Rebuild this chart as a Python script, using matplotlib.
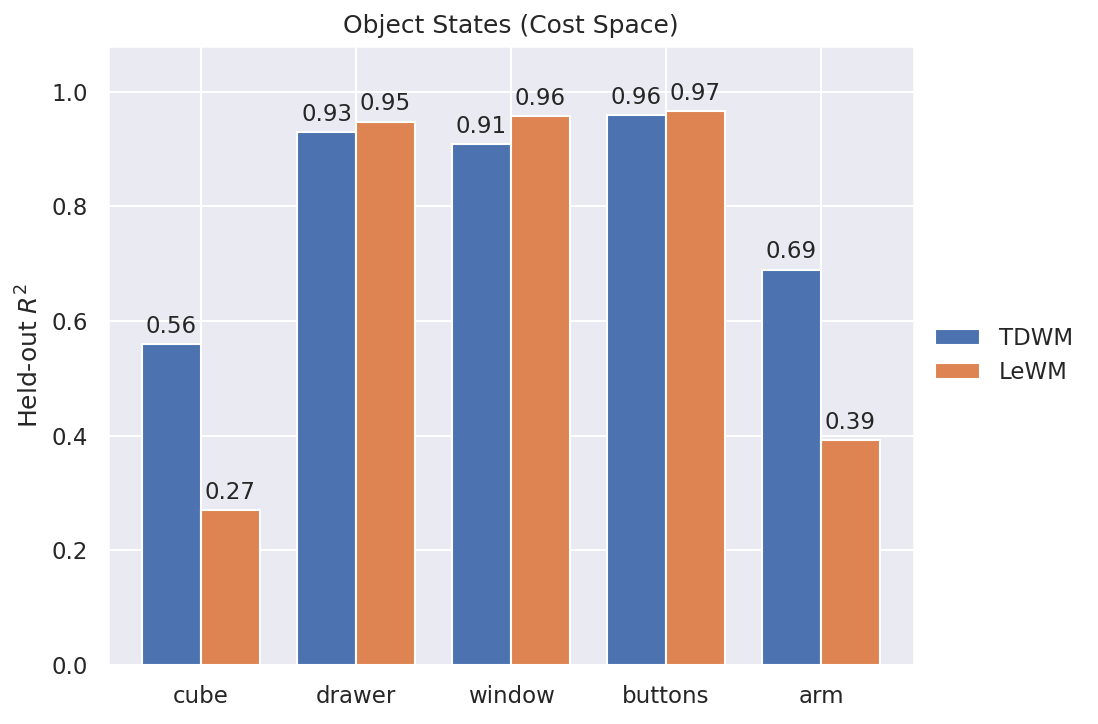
import numpy as np
import seaborn as sns
from matplotlib import pyplot as plt

categories = ["cube", "drawer", "window", "buttons", "arm"]
tdwm = [0.56, 0.93, 0.909, 0.96, 0.69]
lewm = [0.27, 0.948, 0.958, 0.967, 0.392]

sns.set_theme(style="darkgrid")

fig, ax = plt.subplots(figsize=(1098 / 150, 724 / 150), dpi=150)
fig.subplots_adjust(left=108 / 1098, right=914 / 1098, top=1 - 46 / 724, bottom=1 - 665 / 724)

x = np.arange(len(categories))
w = 0.38
b1 = ax.bar(x - w / 2, tdwm, w, label="TDWM", color="#4c72b0", edgecolor="white")
b2 = ax.bar(x + w / 2, lewm, w, label="LeWM", color="#dd8452", edgecolor="white")
ax.bar_label(b1, fmt="%.2f", padding=3, fontsize=11)
ax.bar_label(b2, fmt="%.2f", padding=3, fontsize=11)

ax.set_xticks(x)
ax.set_xticklabels(categories)
ax.set_xlim(-0.6, 4.6)
ax.set_ylim(0, 1.08)
ax.set_ylabel("Held-out $R^2$")
ax.set_title("Object States (Cost Space)")
ax.legend(loc="center left", bbox_to_anchor=(1.0, 0.5), frameon=False)

fig.savefig("out.png", dpi=150)
